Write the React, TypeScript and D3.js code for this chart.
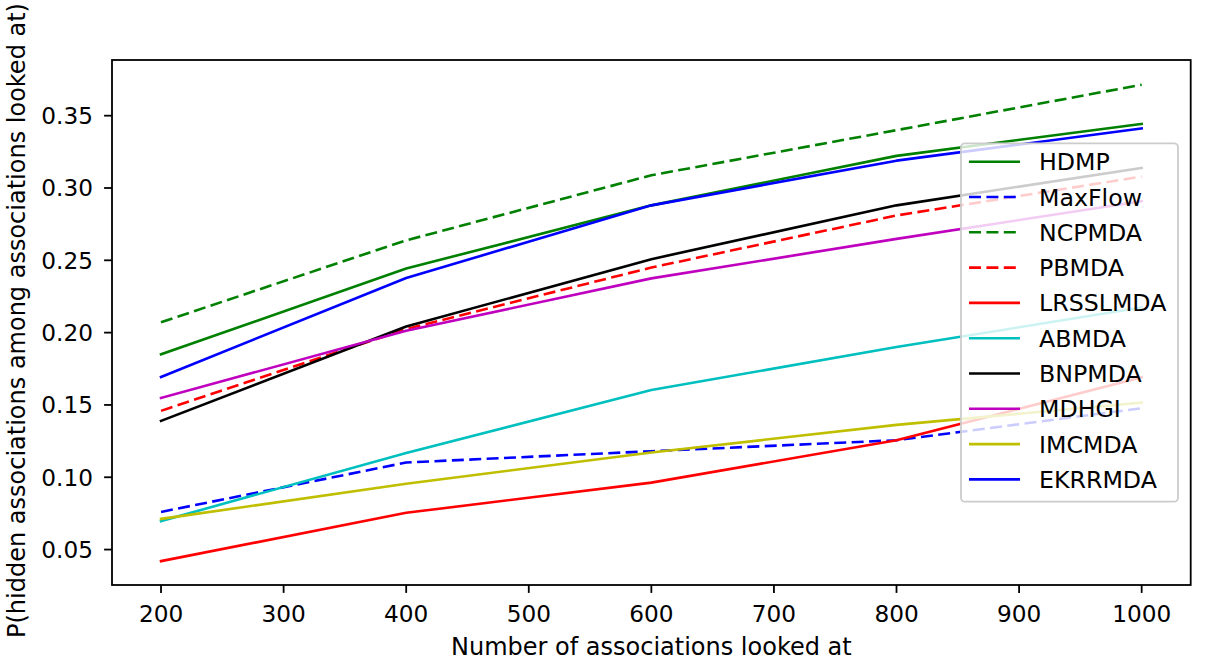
import React from "react";
import * as d3 from "d3";

const xValues = [200, 400, 600, 800, 1000];
const seriesNames = ["HDMP", "MaxFlow", "NCPMDA", "PBMDA", "LRSSLMDA", "ABMDA", "BNPMDA", "MDHGI", "IMCMDA", "EKRRMDA"];
const seriesColors = ["#008000", "#0000ff", "#008000", "#ff0000", "#ff0000", "#00bfbf", "#000000", "#bf00bf", "#bfbf00", "#0000ff"];
const seriesDashed = [false, true, true, true, false, false, false, false, false, false];

const hdmp = [0.185, 0.2443, 0.288, 0.3222, 0.3443];
const maxflow = [0.076, 0.1102, 0.118, 0.1256, 0.1477];
const ncpmda = [0.2072, 0.2638, 0.3088, 0.34, 0.3714];
const pbmda = [0.1459, 0.2025, 0.245, 0.281, 0.3079];
const lrsslmda = [0.042, 0.0754, 0.0963, 0.1256, 0.1691];
const abmda = [0.0697, 0.1168, 0.1603, 0.19, 0.2174];
const bnpmda = [0.139, 0.2042, 0.2508, 0.288, 0.3139];
const mdhgi = [0.1548, 0.2013, 0.2375, 0.2648, 0.2909];
const imcmda = [0.0712, 0.0955, 0.1171, 0.1362, 0.1516];
const ekrrmda = [0.1693, 0.2378, 0.288, 0.3189, 0.3412];

const seriesValues = [hdmp, maxflow, ncpmda, pbmda, lrsslmda, abmda, bnpmda, mdhgi, imcmda, ekrrmda];

const xTicks = [200, 300, 400, 500, 600, 700, 800, 900, 1000];
const yTicks = [0.05, 0.1, 0.15, 0.2, 0.25, 0.3, 0.35];

const W = 1205;
const H = 665;
const left = 112;
const right = 1190.7;
const top = 60;
const bottom = 585;
const FONT = "DejaVu Sans, sans-serif";
const FS_TICK = 23.2;
const FS_LEG = 23.7;
const FS_LAB = 24;

export default function App() {
  const x = d3.scaleLinear().domain([160, 1040]).range([left, right]);
  const y = d3.scaleLinear().domain([0.0255, 0.3885]).range([bottom, top]);
  const line = d3
    .line<number>()
    .x((_, i) => x(xValues[i]))
    .y((d) => y(d));
  const fmt = d3.format(".2f");

  const legX = 961;
  const legY = 143.3;
  const legW = 217;
  const legH = 358.4;
  const rowY0 = 161.7;
  const rowStep = 35.3;

  return (
    <svg
      width={W}
      height={H}
      viewBox={`0 0 ${W} ${H}`}
      style={{ position: "absolute", left: 0, top: 0, background: "#fff" }}
    >
      <rect x={0} y={0} width={W} height={H} fill="#fff" />
      {seriesValues.map((vals, k) => (
        <path
          key={seriesNames[k]}
          d={line(vals) || ""}
          fill="none"
          stroke={seriesColors[k]}
          strokeWidth={2.6}
          strokeDasharray={seriesDashed[k] ? "12 5.4" : undefined}
          strokeLinecap={seriesDashed[k] ? "butt" : "square"}
          strokeLinejoin="round"
        />
      ))}
      <rect x={left} y={top} width={right - left} height={bottom - top} fill="none" stroke="#000" strokeWidth={1.8} />
      {xTicks.map((t) => (
        <g key={"x" + t}>
          <line x1={x(t)} x2={x(t)} y1={bottom} y2={bottom + 7.9} stroke="#000" strokeWidth={1.8} />
          <text x={x(t)} y={621.5} textAnchor="middle" fontFamily={FONT} fontSize={FS_TICK} fill="#000">
            {t}
          </text>
        </g>
      ))}
      {yTicks.map((t) => (
        <g key={"y" + t}>
          <line x1={left - 7.9} x2={left} y1={y(t)} y2={y(t)} stroke="#000" strokeWidth={1.8} />
          <text x={93} y={y(t) + 8.4} textAnchor="end" fontFamily={FONT} fontSize={FS_TICK} fill="#000">
            {fmt(t)}
          </text>
        </g>
      ))}
      <text x={(left + right) / 2} y={655} textAnchor="middle" fontFamily={FONT} fontSize={FS_LAB} fill="#000">
        Number of associations looked at
      </text>
      <text
        transform={`translate(25, ${(top + bottom) / 2 - 2}) rotate(-90)`}
        textAnchor="middle"
        fontFamily={FONT}
        fontSize={FS_LAB}
        fill="#000"
      >
        P(hidden associations among associations looked at)
      </text>
      <rect
        x={legX}
        y={legY}
        width={legW}
        height={legH}
        rx={4}
        ry={4}
        fill="#fff"
        fillOpacity={0.8}
        stroke="#cccccc"
        strokeWidth={1.8}
      />
      {seriesNames.map((name, k) => {
        const ry = rowY0 + k * rowStep;
        return (
          <g key={"leg" + name}>
            <line
              x1={969}
              x2={1020}
              y1={ry}
              y2={ry}
              stroke={seriesColors[k]}
              strokeWidth={2.6}
              strokeDasharray={seriesDashed[k] ? "12 5.4" : undefined}
            />
            <text x={1039} y={ry + 8.5} fontFamily={FONT} fontSize={FS_LEG} fill="#000">
              {name}
            </text>
          </g>
        );
      })}
    </svg>
  );
}
